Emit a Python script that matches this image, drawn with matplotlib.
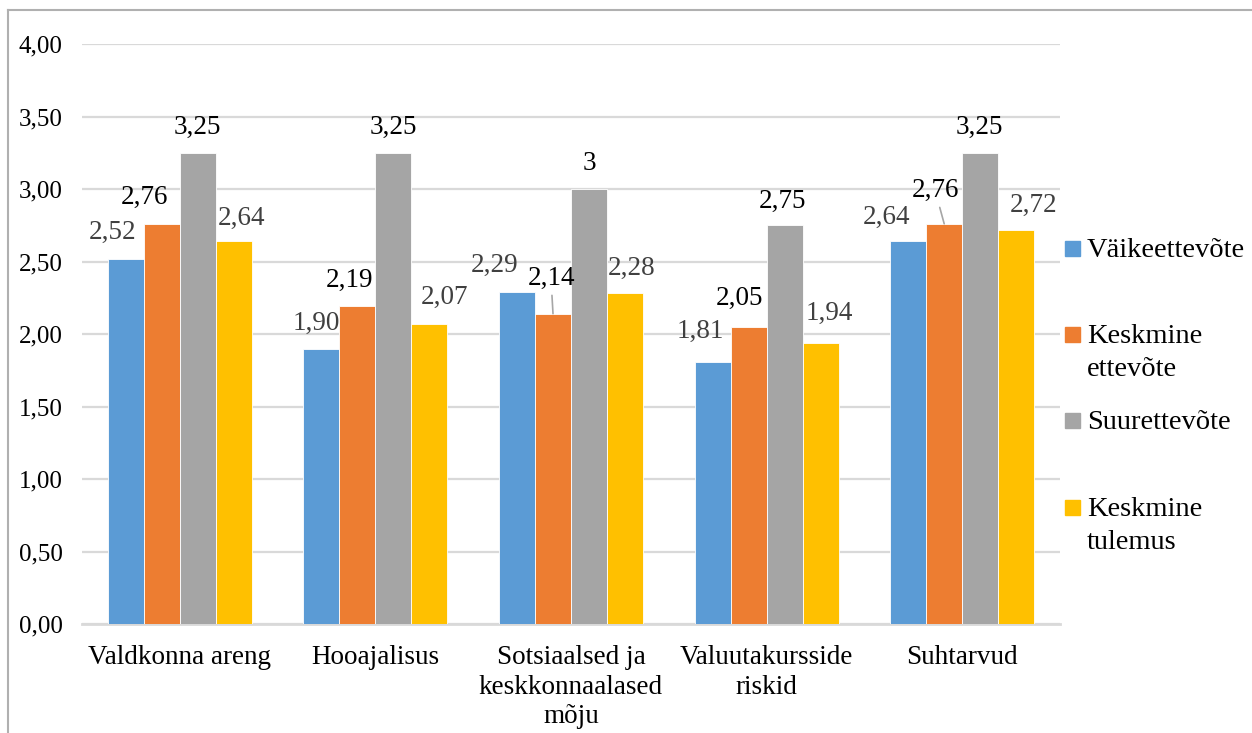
import numpy as np
import matplotlib.pyplot as plt
from matplotlib.lines import Line2D
from matplotlib.patches import Rectangle

plt.rcParams['font.family'] = ['Liberation Serif', 'DejaVu Serif']

# data
categories = ['Valdkonna areng', 'Hooajalisus', 'Sotsiaalsed ja\nkeskkonnaalased\nmõju',
              'Valuutakursside\nriskid', 'Suhtarvud']
series_names = ['Väikeettevõte', 'Keskmine\nettevõte', 'Suurettevõte', 'Keskmine\ntulemus']
vaike = [2.52, 1.90, 2.29, 1.81, 2.64]
keskmine_ettevote = [2.76, 2.19, 2.14, 2.05, 2.76]
suur = [3.25, 3.25, 3.00, 2.75, 3.25]
keskmine_tulemus = [2.64, 2.07, 2.28, 1.94, 2.72]
yticks = [0, 0.5, 1.0, 1.5, 2.0, 2.5, 3.0, 3.5, 4.0]

series = [vaike, keskmine_ettevote, suur, keskmine_tulemus]
colors = ['#5B9BD5', '#ED7D31', '#A5A5A5', '#FFC000']
label_colors = ['#404040', 'black', 'black', '#404040']

# label offsets from bar top (pixels)
offsets = [
    [(-13, 26), (-5, 25), (-22, 27), (-12, 30), (-22, 24)],
    [(-17, 26), (-8, 26), (-2, 35), (-9, 28), (-9, 33)],
    [(0, 25), (0, 25), (0, 25), (-2, 24), (-1, 25)],
    [(8, 23), (15, 26), (7, 25), (9, 29), (17, 24)],
]
leaders = {(1, 2), (1, 4)}

W, H = 1252, 733
fig = plt.figure(figsize=(W / 100, H / 100), dpi=100)
ax = fig.add_axes([82 / W, 1 - 624 / H, 978 / W, 580 / H])

x = np.arange(len(categories))
width = 0.184
for i, vals in enumerate(series):
    pos = x + (i - 1.5) * width
    ax.bar(pos, vals, width, color=colors[i], edgecolor='white', linewidth=0.6, zorder=3)
    for j, v in enumerate(vals):
        txt = str(int(v)) if float(v).is_integer() else f'{v:.2f}'.replace('.', ',')
        dx, dy = offsets[i][j]
        kw = {}
        if (i, j) in leaders:
            kw['arrowprops'] = dict(arrowstyle='-', color='#a6a6a6', lw=1.2,
                                    shrinkA=1, shrinkB=0)
        ax.annotate(txt, xy=(pos[j], v), xytext=(dx, dy), textcoords='offset pixels',
                    ha='center', va='center', fontsize=19.5, color=label_colors[i],
                    zorder=4, **kw)

ax.set_xlim(-0.5, len(categories) - 0.5)
ax.set_ylim(0, 4)
ax.set_yticks(yticks)
ax.set_yticklabels([f'{t:.2f}'.replace('.', ',') for t in yticks], fontsize=18)
ax.set_xticks(x)
ax.set_xticklabels(categories, fontsize=19.5, linespacing=1.25)
ax.tick_params(length=0, pad=14)
ax.tick_params(axis='x', pad=15)
ax.yaxis.grid(True, color='#d9d9d9', linewidth=1.6, zorder=0)
ax.set_axisbelow(True)
for s in ['top', 'right', 'left']:
    ax.spines[s].set_visible(False)
ax.spines['bottom'].set_color('#d9d9d9')
ax.spines['bottom'].set_linewidth(2)

# legend drawn by hand: square + label lines, first baseline at given pixel row
legend_base = [257, 343, 429, 516]
line_step = 33
for name, c, base in zip(series_names, colors, legend_base):
    fig.add_artist(Rectangle((1065 / W, 1 - (base - 1) / H), 15 / W, 15 / H,
                             transform=fig.transFigure, color=c))
    for k, part in enumerate(name.split('\n')):
        fig.text(1087 / W, 1 - (base + k * line_step) / H, part, ha='left',
                 va='baseline', fontsize=20.5)

# outer frame
fig.add_artist(Line2D([8 / W, 8 / W], [0, 1 - 10 / H], color='#b0b0b0', lw=1.5))
fig.add_artist(Line2D([8 / W, 1], [1 - 10 / H, 1 - 10 / H], color='#b0b0b0', lw=1.5))

fig.savefig('out.png', dpi=100)
